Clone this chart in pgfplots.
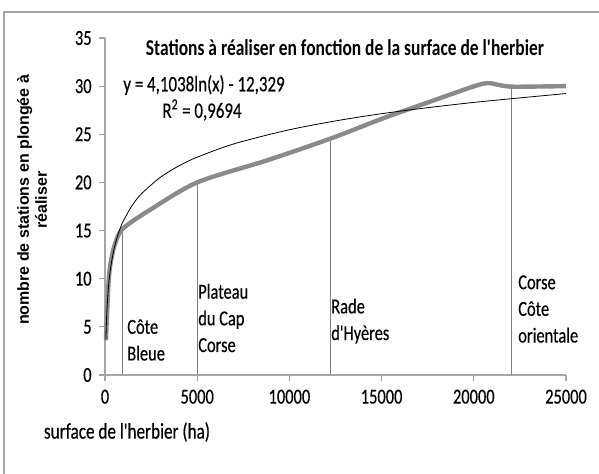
\documentclass[border=0pt]{standalone}
\usepackage{pgfplots}
\pgfplotsset{compat=1.18}
\usepackage{fontspec}
\setmainfont{Carlito}[FakeStretch=0.77, Ligatures=TeXOff, UprightFeatures={FakeBold=0.35}]
\newfontfamily\arialb{Liberation Sans}
\definecolor{thickgray}{HTML}{8A8A8A}
\definecolor{linegray}{HTML}{7F7F7F}
\definecolor{axgray}{HTML}{A6A6A6}
\begin{document}
\begin{tikzpicture}
\path[use as bounding box] (0,0) rectangle (449.25pt,355.5pt);
\draw[axgray, line width=1pt] (3pt,-2pt) -- (3pt,346.5pt) -- (452pt,346.5pt);
\begin{axis}[
  at={(78.75pt,74.25pt)}, anchor=south west,
  scale only axis, width=345.75pt, height=252.75pt,
  xmin=0, xmax=25000, ymin=0, ymax=35,
  axis x line=bottom, axis y line=left,
  axis line style={axgray, line width=0.8pt, -},
  xtick={0,5000,...,25000}, ytick={0,5,...,35},
  tick align=outside, major tick length=4.5pt,
  tick style={axgray, line width=0.8pt},
  /pgf/number format/assume math mode=true,
  scaled x ticks=false,
  xticklabel style={/pgf/number format/set thousands separator={}, font=\fontsize{16}{19}\selectfont, yshift=-3pt},
  yticklabel style={font=\fontsize{16}{19}\selectfont, xshift=-2pt},
  clip=false,
]
% vertical region lines
\addplot[linegray, line width=0.9pt] coordinates {(938,0) (938,14.8)};
\addplot[linegray, line width=0.9pt] coordinates {(5000,0) (5000,20)};
\addplot[linegray, line width=0.9pt] coordinates {(12250,0) (12250,24.6)};
\addplot[linegray, line width=0.9pt] coordinates {(22050,0) (22050,29.95)};
% data curve
\addplot[thickgray, line width=3.3pt, smooth, tension=0.5] coordinates {
(50,3.6) (180,9.2) (270,11.2) (450,13) (720,14.5) (1085,15.4) (2400,17.1)
(5000,20) (8800,22.3) (12300,24.6) (15000,26.6) (17500,28.3) (19800,29.85)
(20500,30.25) (20900,30.3) (21400,30.1) (22000,29.95) (23000,29.95) (25000,30)};
% log trend line
\addplot[black, line width=0.6pt, smooth] coordinates {
(50,3.725) (100,6.57) (200,9.41) (300,11.08) (500,13.18) (750,14.84)
(1000,16.02) (1500,17.68) (2000,18.86) (3000,20.53) (4000,21.71)
(5000,22.62) (7000,24.01) (10000,25.47) (13000,26.55) (16000,27.40)
(20000,28.31) (25000,29.23)};
\end{axis}
\node[font=\bfseries\fontsize{17}{20}\selectfont] at (258.75pt,319.5pt) {Stations à réaliser en fonction de la surface de l'herbier};
\node[font=\fontsize{16.5}{19}\selectfont] at (153pt,291.75pt) {y = 4,1038ln(x) - 12,329};
\node[font=\fontsize{16.5}{19}\selectfont] at (151.5pt,273pt) {R\textsuperscript{2} = 0,9694};
\node[font=\arialb\bfseries\fontsize{12}{13.5}\selectfont, rotate=90, align=center] at (24pt,205.5pt) {nombre de stations en plongée à\\réaliser};
\node[font=\fontsize{16.7}{19}\selectfont] at (95.25pt,31.5pt) {surface de l'herbier (ha)};
\node[font=\fontsize{16}{20}\selectfont, align=left, anchor=west, inner sep=0pt] at (95.25pt,100.5pt) {Côte\\Bleue};
\node[font=\fontsize{16}{20}\selectfont, align=left, anchor=west, inner sep=0pt] at (148.5pt,117pt) {Plateau\\du Cap\\Corse};
\node[font=\fontsize{16}{20}\selectfont, align=left, anchor=west, inner sep=0pt] at (248.25pt,114.75pt) {Rade\\d'Hyères};
\node[font=\fontsize{16}{20}\selectfont, align=left, anchor=west, inner sep=0pt] at (388.5pt,123.75pt) {Corse\\Côte\\orientale};
\end{tikzpicture}
\end{document}
